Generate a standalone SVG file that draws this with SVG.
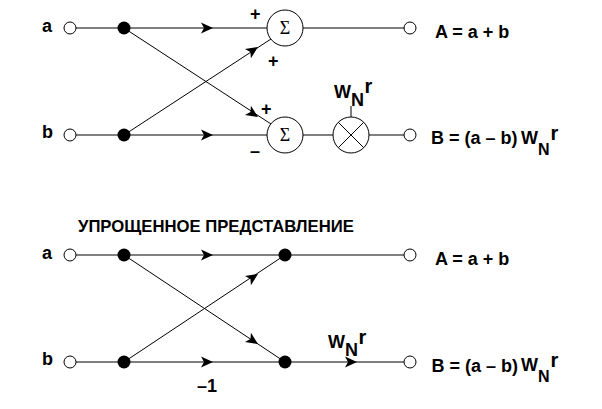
<svg xmlns="http://www.w3.org/2000/svg" width="602" height="409" viewBox="0 0 602 409">
<style>
text{font-family:"Liberation Sans",Arial,sans-serif;font-weight:bold;font-size:18px;fill:#000}
.l{stroke:#000;stroke-width:1.2;fill:none}
.t{stroke:#000;stroke-width:1;fill:none}
.o{fill:#fff;stroke:#000;stroke-width:1}
.d{fill:#000;stroke:none}
.s{fill:#fff;stroke:#000;stroke-width:1}
.g{font-family:"Liberation Serif","DejaVu Serif",serif;font-weight:normal;font-size:18px}
.m{font-size:16px}
.w{font-size:18px}
.n{font-size:18px}
.r{font-size:20px}
</style>
<defs>
<path id="ah" d="M0 0L-12 -5.500L-9 0L-12 5.500Z" fill="#000"/>
</defs>
<g id="connectors">
<path class="l" d="M76 28H267M303 28H404M76 135H267M303 135H333M369 135H404"/>
<path class="t" d="M124 28L271 124M124 135L271 39M351 117V106"/>
<path class="l" d="M76 255H404M76 362H404"/>
<path class="t" d="M124 255L285 362M124 362L285 255"/>
<use href="#ah" transform="translate(213 28)"/>
<use href="#ah" transform="translate(213 135)"/>
<use href="#ah" transform="translate(258 47) rotate(-33)"/>
<use href="#ah" transform="translate(258 117) rotate(33)"/>
<use href="#ah" transform="translate(213 255)"/>
<use href="#ah" transform="translate(213 362)"/>
<use href="#ah" transform="translate(258 274) rotate(-33)"/>
<use href="#ah" transform="translate(258 344) rotate(33)"/>
<use href="#ah" transform="translate(357 362)"/>
</g>
<g id="in-a1"><circle class="o" cx="70" cy="28" r="6"/><text x="42" y="32">a</text></g>
<g id="in-b1"><circle class="o" cx="70" cy="135" r="6"/><text x="42" y="138">b</text></g>
<g id="n1"><circle class="d" cx="124" cy="28" r="6.500"/></g>
<g id="n2"><circle class="d" cx="124" cy="135" r="6.500"/></g>
<g id="sum1"><circle class="s" cx="285" cy="28" r="18"/><text class="g" x="285" y="34" text-anchor="middle">Σ</text></g>
<g id="sum2"><circle class="s" cx="285" cy="135" r="18"/><text class="g" x="285" y="141" text-anchor="middle">Σ</text></g>
<g id="mul"><circle class="s" cx="351" cy="135" r="18"/><path class="t" d="M338.300 122.300L363.700 147.700M363.700 122.300L338.300 147.700"/></g>
<g id="out1"><circle class="o" cx="410" cy="28" r="6"/><text x="435" y="37.500">A = a + b</text></g>
<g id="out2"><circle class="o" cx="410" cy="135" r="6"/><text x="431" y="144">B = (a – b)</text><text class="w" x="521" y="144">W</text><text class="m" x="538" y="155">N</text><text class="r" x="550.500" y="140">r</text></g>
<g id="signs">
<text x="250" y="19.500">+</text><text x="268" y="67">+</text><text x="261" y="115">+</text><text x="250" y="157">–</text>
<text class="w" x="334" y="98">W</text><text class="n" x="351" y="106">N</text><text class="r" x="364.500" y="93">r</text>
</g>
<g id="in-a2"><circle class="o" cx="70" cy="255" r="6"/><text x="42" y="259">a</text></g>
<g id="in-b2"><circle class="o" cx="70" cy="362" r="6"/><text x="42" y="365">b</text></g>
<g id="n3"><circle class="d" cx="124" cy="255" r="6.500"/></g>
<g id="n4"><circle class="d" cx="124" cy="362" r="6.500"/></g>
<g id="n5"><circle class="d" cx="285" cy="255" r="6.500"/></g>
<g id="n6"><circle class="d" cx="285" cy="362" r="6.500"/></g>
<g id="out3"><circle class="o" cx="410" cy="255" r="6"/><text x="435" y="265">A = a + b</text></g>
<g id="out4"><circle class="o" cx="410" cy="362" r="6"/><text x="431.500" y="372">B = (a – b)</text><text class="w" x="521" y="371">W</text><text class="m" x="538" y="382">N</text><text class="r" x="550.500" y="367">r</text></g>
<text x="78" y="232" style="font-size:16.700px">УПРОЩЕННОЕ ПРЕДСТАВЛЕНИЕ</text>
<text x="197" y="392">–1</text>
<text class="w" x="328" y="348">W</text><text class="n" x="345" y="356">N</text><text class="r" x="358.500" y="344">r</text>
</svg>
